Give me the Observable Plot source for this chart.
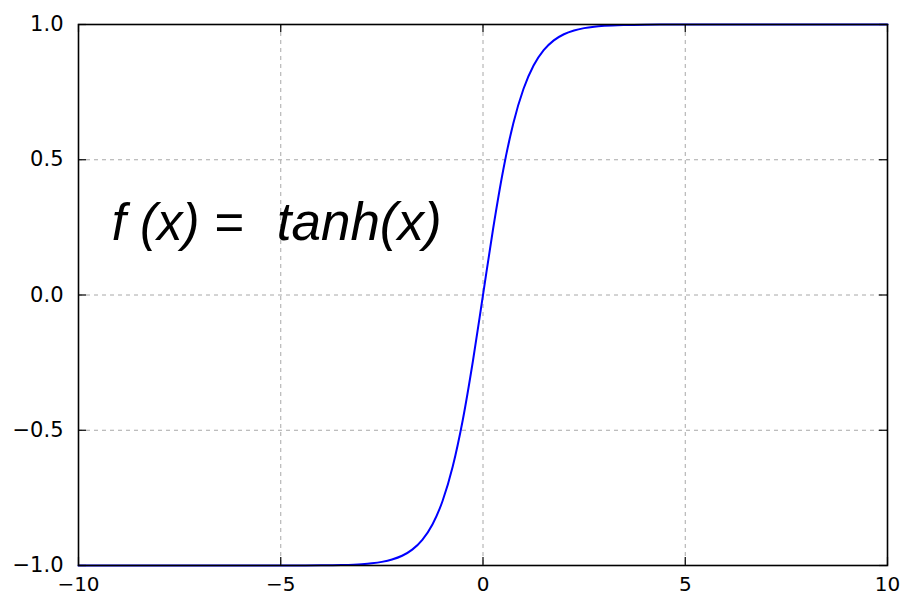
<!DOCTYPE html>
<html>
<head>
<meta charset="utf-8">
<script src="https://cdn.jsdelivr.net/npm/d3@7"></script>
<script src="https://cdn.jsdelivr.net/npm/@observablehq/plot@0.6"></script>
<style>
  html, body { margin: 0; padding: 0; background: #fff; }
  #chart svg { display: block; overflow: visible; }
</style>
</head>
<body>
<div id="chart"></div>
<script>
// Values (the blue curve)
const xs = [-10, -6, -5, -4, -3.5, -3, -2.75, -2.5, -2.25, -2, -1.75, -1.5, -1.25, -1, -0.75, -0.5, -0.25, 0,
            0.25, 0.5, 0.75, 1, 1.25, 1.5, 1.75, 2, 2.25, 2.5, 2.75, 3, 3.5, 4, 5, 6, 10];
const ys = [-1.0, -0.99999, -0.99991, -0.99933, -0.99818, -0.99505, -0.99186, -0.98661, -0.97803, -0.96403, -0.94138, -0.90515, -0.84828, -0.76159, -0.63515, -0.46212, -0.24492, 0,
            0.24492, 0.46212, 0.63515, 0.76159, 0.84828, 0.90515, 0.94138, 0.96403, 0.97803, 0.98661, 0.99186, 0.99505, 0.99818, 0.99933, 0.99991, 0.99999, 1.0];

const xTicks = [-10, -5, 0, 5, 10];
const xTickLabels = ["−10", "−5", "0", "5", "10"];
const yTicks = [-1.0, -0.5, 0.0, 0.5, 1.0];
const yTickLabels = ["−1.0", "−0.5", "0.0", "0.5", "1.0"];

const annotationLeft = ["f (x) ="];
const annotationRight = ["tanh(x)"];

const points = xs.map((x, i) => ({x, y: ys[i]}));

const W = 900, H = 597;
const mL = 78, mR = 13, mT = 24, mB = 32;
const fw = W - mL - mR, fh = H - mT - mB;
const tickLen = 8;

const chart = Plot.plot({
  width: W,
  height: H,
  marginLeft: mL,
  marginRight: mR,
  marginTop: mT,
  marginBottom: mB,
  style: { fontFamily: "DejaVu Sans", fontSize: "18px", color: "#000", background: "#fff" },
  x: { domain: [-10, 10], ticks: xTicks, label: null },
  y: { domain: [-1, 1], ticks: yTicks, label: null },
  marks: [
    Plot.gridX(xTicks, { stroke: "#a8a8a8", strokeOpacity: 1, strokeDasharray: "4,4", strokeWidth: 1 }),
    Plot.gridY(yTicks, { stroke: "#a8a8a8", strokeOpacity: 1, strokeDasharray: "4,4", strokeWidth: 1 }),
    Plot.line(points, { x: "x", y: "y", stroke: "#0000ff", strokeWidth: 2, curve: "monotone-x" }),
    // inward ticks on all four sides
    Plot.tickX(xTicks, { x: d => d, stroke: "#000", strokeWidth: 1.2, insetTop: fh - tickLen }),
    Plot.tickX(xTicks, { x: d => d, stroke: "#000", strokeWidth: 1.2, insetBottom: fh - tickLen }),
    Plot.tickY(yTicks, { y: d => d, stroke: "#000", strokeWidth: 1.2, insetRight: fw - tickLen }),
    Plot.tickY(yTicks, { y: d => d, stroke: "#000", strokeWidth: 1.2, insetLeft: fw - tickLen }),
    Plot.axisX(xTicks, { tickSize: 0, tickPadding: 11, label: null, tickFormat: (d, i) => xTickLabels[i], fontSize: 20, fill: "#000" }),
    Plot.axisY(yTicks, { tickSize: 0, tickPadding: 15, label: null, tickFormat: (d, i) => yTickLabels[i], fontSize: 21, fill: "#000" }),
    Plot.frame({ stroke: "#000", strokeWidth: 1.6 }),
    Plot.text(annotationLeft, { x: -9.18, y: 0.205, text: d => d, textAnchor: "start", lineAnchor: "bottom",
      fontSize: 51, fontFamily: "Liberation Sans", fontStyle: "italic", fill: "#000" }),
    Plot.text(annotationRight, { x: -5.1, y: 0.205, text: d => d, textAnchor: "start", lineAnchor: "bottom",
      fontSize: 53, fontFamily: "Liberation Sans", fontStyle: "italic", fill: "#000" })
  ]
});

document.getElementById("chart").appendChild(chart);
</script>
</body>
</html>
